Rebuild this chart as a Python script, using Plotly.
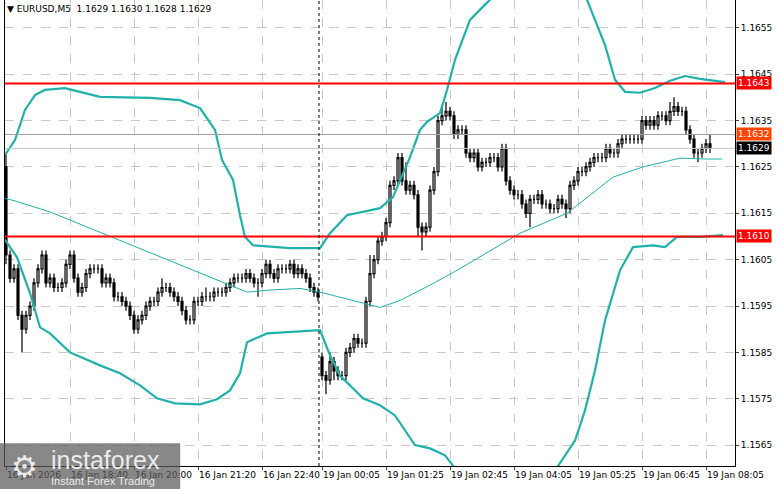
import plotly.graph_objects as go

# EURUSD M5 candles (close prices); open = previous close, except after the weekend gap
first_open = 1.1625
gap_index, gap_open = 79, 1.1584
closes = [
    1.1606, 1.1601, 1.1603, 1.1593, 1.1590, 1.1593, 1.1595, 1.1600, 1.1603, 1.1606,
    1.1600, 1.1601, 1.1599, 1.1599, 1.1600, 1.1604, 1.1606, 1.1601, 1.1598, 1.1599,
    1.1602, 1.1603, 1.1603, 1.1603, 1.1600, 1.1601, 1.1600, 1.1597, 1.1597, 1.1596,
    1.1595, 1.1593, 1.1590, 1.1592, 1.1593, 1.1595, 1.1596, 1.1596, 1.1598, 1.1599,
    1.1599, 1.1598, 1.1597, 1.1596, 1.1594, 1.1592, 1.1592, 1.1596, 1.1596, 1.1597,
    1.1597, 1.1597, 1.1598, 1.1598, 1.1598, 1.1599, 1.1600, 1.1601, 1.1601, 1.1601,
    1.1602, 1.1601, 1.1600, 1.1600, 1.1602, 1.1604, 1.1602, 1.1601, 1.1603, 1.1603,
    1.1603, 1.1604, 1.1602, 1.1603, 1.1602, 1.1601, 1.1599, 1.1598, 1.1597, 1.1580,
    1.1579, 1.1583, 1.1581, 1.1580, 1.1580, 1.1585, 1.1586, 1.1588, 1.1587, 1.1587,
    1.1596, 1.1602, 1.1605, 1.1609, 1.1610, 1.1613, 1.1621, 1.1622, 1.1627, 1.1622,
    1.1620, 1.1621, 1.1619, 1.1612, 1.1611, 1.1612, 1.1620, 1.1624, 1.1635, 1.1636,
    1.1637, 1.1636, 1.1632, 1.1633, 1.1633, 1.1628, 1.1627, 1.1628, 1.1625, 1.1626,
    1.1626, 1.1627, 1.1627, 1.1625, 1.1629, 1.1622, 1.1620, 1.1619, 1.1619, 1.1617,
    1.1615, 1.1618, 1.1618, 1.1619, 1.1617, 1.1617, 1.1616, 1.1616, 1.1618, 1.1617,
    1.1616, 1.1621, 1.1622, 1.1624, 1.1624, 1.1625, 1.1626, 1.1627, 1.1627, 1.1627,
    1.1629, 1.1628, 1.1628, 1.1630, 1.1631, 1.1631, 1.1631, 1.1631, 1.1631, 1.1635,
    1.1634, 1.1635, 1.1634, 1.1636, 1.1636, 1.1635, 1.1637, 1.1638, 1.1637, 1.1637,
    1.1633, 1.1631, 1.1628, 1.1628, 1.1629, 1.1630, 1.1629,
]
# wick lengths above / below the body, in pips
wick_up = [
    3, 1, 1, 1, 1, 1, 1, 1, 1, 1, 1, 1, 1, 1, 1, 1, 1, 1, 1, 1,
    1, 1, 1, 1, 1, 1, 1, 1, 1, 1, 1, 1, 1, 1, 1, 1, 1, 1, 1, 2,
    1, 1, 1, 1, 1, 1, 1, 1, 1, 1, 2, 1, 1, 1, 1, 1, 1, 1, 1, 1,
    1, 1, 1, 1, 1, 1, 1, 1, 1, 1, 1, 1, 1, 1, 1, 1, 1, 1, 1, 1,
    1, 2, 1, 1, 1, 1, 1, 1, 1, 1, 1, 4, 1, 1, 1, 1, 1, 1, 1, 1,
    4, 1, 1, 1, 1, 1, 1, 1, 1, 2, 2, 1, 1, 1, 1, 1, 1, 1, 1, 1,
    1, 1, 1, 1, 1, 1, 1, 1, 1, 1, 1, 1, 1, 1, 1, 1, 1, 1, 1, 1,
    1, 1, 1, 1, 1, 1, 1, 1, 1, 1, 1, 1, 1, 1, 1, 1, 1, 1, 1, 1,
    1, 1, 1, 1, 1, 1, 2, 2, 1, 1, 1, 1, 1, 1, 1, 1, 2,
]
wick_dn = [
    2, 1, 1, 1, 5, 1, 1, 1, 1, 1, 1, 1, 1, 1, 1, 1, 1, 1, 1, 1,
    1, 1, 1, 1, 1, 1, 1, 1, 1, 1, 1, 1, 1, 1, 1, 1, 1, 1, 1, 1,
    1, 1, 1, 1, 1, 1, 1, 1, 1, 1, 1, 1, 1, 1, 1, 1, 1, 1, 1, 1,
    1, 1, 1, 3, 1, 1, 1, 1, 1, 1, 1, 1, 1, 1, 1, 1, 1, 1, 1, 1,
    3, 1, 2, 1, 1, 1, 1, 1, 1, 1, 1, 1, 1, 1, 1, 1, 1, 1, 1, 1,
    1, 1, 1, 2, 4, 1, 1, 1, 1, 1, 1, 1, 1, 1, 1, 1, 1, 1, 1, 1,
    1, 1, 1, 1, 1, 1, 1, 1, 1, 1, 1, 3, 1, 1, 1, 1, 1, 1, 1, 1,
    2, 1, 1, 1, 1, 1, 1, 1, 1, 1, 1, 1, 1, 1, 1, 1, 1, 1, 1, 1,
    1, 1, 1, 1, 1, 1, 1, 1, 1, 1, 1, 1, 1, 2, 1, 1, 1,
]

# Bollinger bands (candle index, price)
upper_x = [-0.25, 2.25, 4.75, 7.25, 9.75, 14.75, 18.5, 23.5, 36, 43.5, 48.5, 52.25, 54, 56.75,
           58.5, 59.75, 61.75, 71, 78.5, 81, 85.25, 93.5, 96.75, 101, 103.5, 105.25, 108.5,
           110.25, 112.25, 116, 119.75, 122.25, 133.5, 144.75, 147.25, 149.75, 152.25,
           154.75, 158.5, 162.25, 166, 169.75, 173.5, 179.75]
upper_y = [1.16276, 1.16308, 1.16373, 1.16405, 1.16416, 1.16420, 1.16412, 1.16401, 1.16399,
           1.16394, 1.16377, 1.16330, 1.16265, 1.16222, 1.16146, 1.16099, 1.16081, 1.16075,
           1.16075, 1.16107, 1.16146, 1.16161, 1.16185, 1.16271, 1.16330, 1.16347, 1.16366,
           1.16416, 1.16481, 1.16567, 1.16600, 1.16621, 1.16675, 1.16621, 1.16567, 1.16513,
           1.16438, 1.16412, 1.16410, 1.16420, 1.16436, 1.16446, 1.16440, 1.16433]
mid_x = [-0.75, 1.75, 11, 23.5, 38.5, 48.5, 60.25, 65.25, 73.5, 78.5, 86.75, 93.5, 98.5, 106,
         112.75, 128.5, 140.25, 151.75, 159.25, 168.5, 175.25, 179]
mid_y = [1.16183, 1.16178, 1.16153, 1.16109, 1.16055, 1.16021, 1.15980, 1.15984, 1.15988,
         1.15980, 1.15962, 1.15947, 1.15962, 1.15995, 1.16027, 1.16107, 1.16150, 1.16228,
         1.16250, 1.16269, 1.16267, 1.16267]
lower_x = [-0.75, 2.75, 6, 8.5, 11, 16, 23.5, 28.5, 33.5, 37.75, 42.25, 48.5, 52.75, 56, 58.5,
           60.25, 65.25, 73.5, 78.5, 81, 83.5, 89.25, 93.5, 97.25, 99.75, 102.25, 106, 109.75,
           112.25, 123.5, 137.25, 142.25, 144.75, 147.25, 149.75, 153.5, 156.75, 161.75,
           164.75, 167.75, 173.5, 179.25]
lower_y = [1.16099, 1.16055, 1.15978, 1.15904, 1.15891, 1.15850, 1.15822, 1.15805, 1.15779,
           1.15751, 1.15740, 1.15738, 1.15749, 1.15768, 1.15805, 1.15872, 1.15891, 1.15896,
           1.15898, 1.15844, 1.15800, 1.15751, 1.15736, 1.15714, 1.15682, 1.15650, 1.15643,
           1.15628, 1.15600, 1.15552, 1.15595, 1.15660, 1.15725, 1.15811, 1.15919, 1.16027,
           1.16077, 1.16081, 1.16077, 1.16099, 1.16099, 1.16103]

tick_idx = [0, 16, 32, 48, 64, 79, 95, 111, 127, 143, 159, 175]
tick_labels = ["16 Jan 2026", "16 Jan 18:40", "16 Jan 20:00", "16 Jan 21:20", "16 Jan 22:40",
               "19 Jan 00:05", "19 Jan 01:25", "19 Jan 02:45", "19 Jan 04:05", "19 Jan 05:25",
               "19 Jan 06:45", "19 Jan 08:05"]
price_ticks = [1.1655, 1.1645, 1.1635, 1.1625, 1.1615, 1.1605, 1.1595, 1.1585, 1.1575, 1.1565]
levels = [1.1643, 1.1610]
last_price, ref_price = 1.1629, 1.1632

opens = [first_open] + closes[:-1]
opens[gap_index] = gap_open
highs = [max(o, c) + u * 0.0001 for o, c, u in zip(opens, closes, wick_up)]
lows = [min(o, c) - d * 0.0001 for o, c, d in zip(opens, closes, wick_dn)]
idx = list(range(len(closes)))

teal = "#20b2aa"
font = "DejaVu Sans"
fig = go.Figure()
fig.add_trace(go.Scatter(x=upper_x, y=upper_y, mode="lines", line=dict(color=teal, width=2.2)))
fig.add_trace(go.Scatter(x=lower_x, y=lower_y, mode="lines", line=dict(color=teal, width=2.2)))
fig.add_trace(go.Scatter(x=mid_x, y=mid_y, mode="lines", line=dict(color=teal, width=1)))
fig.add_trace(go.Candlestick(
    x=idx, open=opens, high=highs, low=lows, close=closes,
    increasing=dict(line=dict(color="black", width=1.2), fillcolor="white"),
    decreasing=dict(line=dict(color="black", width=1.2), fillcolor="black"),
    whiskerwidth=0,
))

for lv in levels:
    fig.add_hline(y=lv, line=dict(color="#ff0000", width=2))
fig.add_hline(y=ref_price, line=dict(color="#a0a0a0", width=1))
fig.add_hline(y=last_price, line=dict(color="#c8c8c8", width=1))
fig.add_vline(x=78.25, line=dict(color="black", width=1, dash="dot"))

for val, col in [(1.1643, "#ff0000"), (1.1610, "#ff0000"), (ref_price, "#ff4500"), (last_price, "black")]:
    fig.add_annotation(x=1, xref="paper", y=val, yref="y", xanchor="left", text=f"{val:.4f}",
                       showarrow=False, bgcolor=col, font=dict(color="white", size=9, family=font),
                       borderpad=1, xshift=1)

fig.add_annotation(x=0.0, xref="paper", y=1, yref="paper", xanchor="left", yanchor="top",
                   text="▼ EURUSD,M5  1.1629 1.1630 1.1628 1.1629", showarrow=False,
                   font=dict(size=9, color="black", family=font), yshift=-2)

# watermark
fig.add_shape(type="rect", xref="paper", yref="paper", x0=-0.007, x1=0.24, y0=-0.05, y1=0.049,
              fillcolor="rgba(90,90,90,0.72)", line=dict(width=0), layer="above")
fig.add_annotation(x=0.005, xref="paper", y=0.0, yref="paper", xanchor="left", yanchor="middle",
                   text="⚙", showarrow=False, font=dict(size=30, color="rgba(255,255,255,0.85)", family=font))
fig.add_annotation(x=0.06, xref="paper", y=0.012, yref="paper", xanchor="left", yanchor="middle",
                   text="instaforex", showarrow=False,
                   font=dict(size=25, color="rgba(255,255,255,0.85)", family="Liberation Sans"))
fig.add_annotation(x=0.06, xref="paper", y=-0.033, yref="paper", xanchor="left", yanchor="middle",
                   text="Instant Forex Trading", showarrow=False,
                   font=dict(size=11, color="rgba(255,255,255,0.85)", family="Liberation Sans"))

fig.update_layout(
    width=781, height=489, margin=dict(l=5, r=46, t=0, b=23, autoexpand=False),
    paper_bgcolor="white", plot_bgcolor="white", showlegend=False,
    xaxis=dict(range=[-0.25, 182.25], tickvals=tick_idx, ticktext=tick_labels, rangeslider=dict(visible=False),
               showgrid=True, gridcolor="#c8c8c8", griddash="dash", ticklabelposition="outside right",
               tickangle=0, automargin=False,
               tickfont=dict(size=9, color="black", family=font), showline=True, linecolor="black",
               mirror=True, ticks="outside", ticklen=3, zeroline=False),
    yaxis=dict(range=[1.15605, 1.16610], side="right", tickvals=price_ticks, automargin=False,
               ticktext=[f"{p:.4f}" for p in price_ticks], showgrid=True, gridcolor="#c8c8c8", griddash="dash",
               tickfont=dict(size=9, color="black", family=font), showline=True, linecolor="black",
               mirror=True, ticks="outside", ticklen=3, zeroline=False),
)

fig.write_html("out.html", config={"displayModeBar": False},
               post_script="document.body.style.margin='0';document.body.style.overflow='hidden';")
